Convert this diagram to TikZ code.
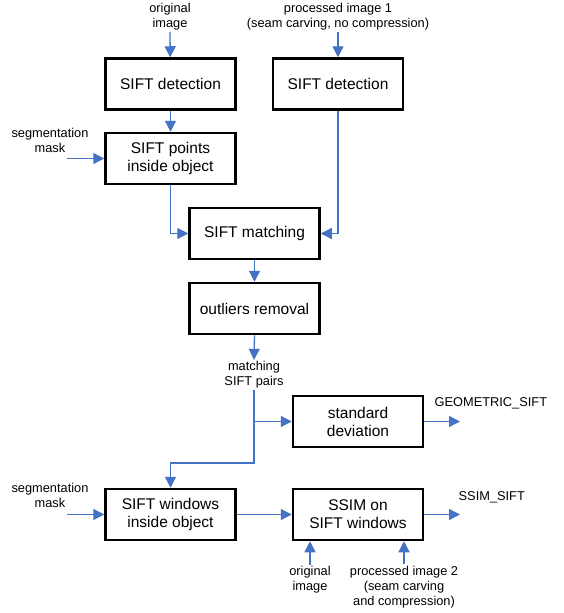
\documentclass[tikz,border=0pt]{standalone}
\usepackage{fontspec}
\setmainfont{Liberation Sans}
\usetikzlibrary{arrows.meta}
\definecolor{flowblue}{RGB}{68,114,196}

\begin{document}
\begin{tikzpicture}[x=1pt,y=-1pt,
block/.style={draw,line width=2.5pt,minimum width=130pt,minimum height=51pt,inner sep=0pt,align=center,font=\fontsize{15.5}{18}\selectfont},
lbl/.style={align=center,inner sep=1.5pt,font=\fontsize{12.8}{15}\selectfont},
flow/.style={draw=flowblue,line width=1.3pt,-{Triangle[length=11pt,width=11pt]}}]
\useasboundingbox (0,0) rectangle (563,613);

\node[block] (det1) at (170.5,84) {SIFT detection};
\node[block] (pts) at (170.5,158.5) {SIFT points\\inside object};
\node[block] (det2) at (338,84) {SIFT detection};
\node[block] (match) at (254.5,233.5) {SIFT matching};
\node[block] (outl) at (254.5,308.5) {outliers removal};
\node[block] (std) at (358,421.5) {standard\\deviation};
\node[block] (win) at (170.5,514.5) {SIFT windows\\inside object};
\node[block] (ssim) at (358,514.5) {SSIM on\\SIFT windows};

\node[lbl] (orig1) at (170,17) {original\\image};
\node[lbl] (proc1) at (338,17) {processed image 1\\(seam carving, no compression)};
\node[lbl] (seg1) at (50,140) {segmentation\\mask};
\node[lbl] (pairs) at (254,375) {matching\\SIFT pairs};
\node[lbl,anchor=west] (geo) at (433,403) {GEOMETRIC\_SIFT};
\node[lbl,anchor=west] (ssimout) at (457,497) {SSIM\_SIFT};
\node[lbl] (seg2) at (50,495) {segmentation\\mask};
\node[lbl] (orig2) at (310,580) {original\\image};
\node[lbl] (proc2) at (404,587) {processed image 2\\(seam carving\\and compression)};

\coordinate (seg1in) at (67,158.5);
\coordinate (seg2in) at (67,514.5);
\coordinate (bend) at (254,463);
\coordinate (geoout) at (460,421.5);
\coordinate (ssimend) at (460,514.5);

\draw[flow] (orig1.south) -- (det1);
\draw[flow] (proc1.south) -- (det2);
\draw[flow] (det1) -- (pts);
\draw[flow] (seg1in) -- (pts);
\draw[flow] (pts.south) |- (match.west);
\draw[flow] (det2.south) |- (match.east);
\draw[flow] (match) -- (outl);
\draw[flow] (outl.south) -- (pairs.north);
\draw[flow] (pairs.south) -- (bend) -| (win.north);
\draw[flow] (pairs.south |- std.west) -- (std.west);
\draw[flow] (std) -- (geoout);
\draw[flow] (seg2in) -- (win);
\draw[flow] (win) -- (ssim);
\draw[flow] (ssim) -- (ssimend);
\draw[flow] (orig2.north) -- (orig2.north |- ssim.south);
\draw[flow] (proc2.north) -- (proc2.north |- ssim.south);
\end{tikzpicture}
\end{document}
